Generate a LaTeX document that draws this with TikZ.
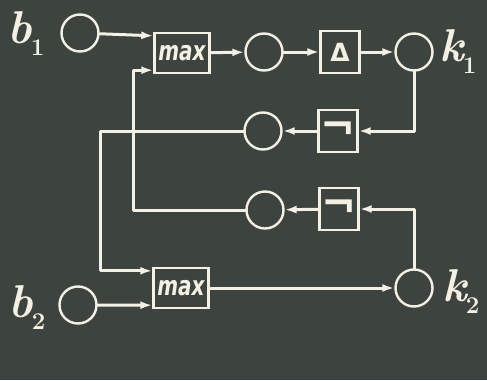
\documentclass[tikz,border=0pt]{standalone}
\usepackage{fontspec}
\usetikzlibrary{arrows.meta,calc}
\newfontfamily\chalkfont{DejaVu Sans}
\definecolor{board}{HTML}{3D4440}
\definecolor{chalk}{HTML}{F4F1E4}
\newcommand{\varname}[2]{\fontsize{46}{46}\selectfont\bfseries\itshape #1\kern-1pt\raisebox{-12pt}{\fontsize{24}{24}\selectfont\upshape #2}}
\begin{document}
\begin{tikzpicture}[x=1pt,y=-1pt,
  line/.style={draw=chalk,line width=3pt,line cap=round,line join=round},
  flow/.style={line,-{Latex[length=12pt,width=8pt]}},
  unit/.style={circle,draw=chalk,line width=2.4pt,minimum size=37pt,inner sep=0pt},
  opbox/.style={rectangle,draw=chalk,line width=2.4pt,inner sep=0pt,text=chalk},
  maxbox/.style={opbox,minimum width=55pt,minimum height=40pt,
    font=\chalkfont\bfseries\itshape\fontsize{20}{20}\selectfont},
  symbox/.style={opbox,minimum width=39pt,minimum height=42pt,
    font=\chalkfont\bfseries\fontsize{25}{25}\selectfont},
  negbox/.style={symbox,font=\chalkfont\bfseries\fontsize{42}{42}\selectfont},
  varlabel/.style={text=chalk,inner sep=0pt}]
  % chalkboard
  \fill[board] (0,0) rectangle (487,380);
  \useasboundingbox (0,0) rectangle (487,380);

  % upper chain
  \node[unit] (b1c) at (80,33) {};
  \node[maxbox] (m1) at (182,53) {\scalebox{1}[1.35]{max}};
  \node[unit] (c1) at (264,52) {};
  \node[symbox] (d) at (340,52) {Δ};
  \node[unit] (k1) at (414,52) {};

  % feedback units
  \node[negbox] (g1) at (338,131) {¬};
  \node[unit] (c2) at (263,131) {};
  \node[negbox] (g2) at (339,209) {¬};
  \node[unit] (c3) at (265,210) {};

  % lower chain
  \node[unit] (b2c) at (78,305) {};
  \node[maxbox] (m2) at (181,288) {\scalebox{1}[1.35]{max}};
  \node[unit] (k2) at (414,288) {};

  % variable names
  \node[varlabel] (lb1) at (26,34) {\varname{b}{1}};
  \node[varlabel] (lk1) at (458,52) {\varname{k}{1}};
  \node[varlabel] (lb2) at (27,308) {\varname{b}{2}};
  \node[varlabel] (lk2) at (461,292) {\varname{k}{2}};

  % entry points and bus lines
  \coordinate (m1in1) at ([yshift=-4pt]m1.north west);
  \coordinate (m1in2) at ([yshift=4pt]m1.south west);
  \coordinate (m2in1) at ([yshift=-4pt]m2.north west);
  \coordinate (m2in2) at ([yshift=4pt]m2.south west);
  \coordinate (busA) at (133,0);
  \coordinate (busB) at (100,0);

  % forward connections
  \draw[flow] (b1c) -- (m1in1);
  \draw[flow] (m1) -- (c1);
  \draw[flow] (c1) -- (d);
  \draw[flow] (d) -- (k1);
  \draw[flow] (b2c) -- (m2in2);
  \draw[flow] (m2) -- (k2);

  % feedback connections
  \draw[flow] (k1.south) |- (g1.east);
  \draw[flow] (g1) -- (c2);
  \draw[flow] (k2.north) |- (g2.east);
  \draw[flow] (g2) -- (c3);
  \draw[flow] (c2.west) -- (busB |- c2.west) -- (busB |- m2in1) -- (m2in1);
  \draw[flow] (c3.west) -- (busA |- c3.west) -- (busA |- m1in2) -- (m1in2);
\end{tikzpicture}
\end{document}
